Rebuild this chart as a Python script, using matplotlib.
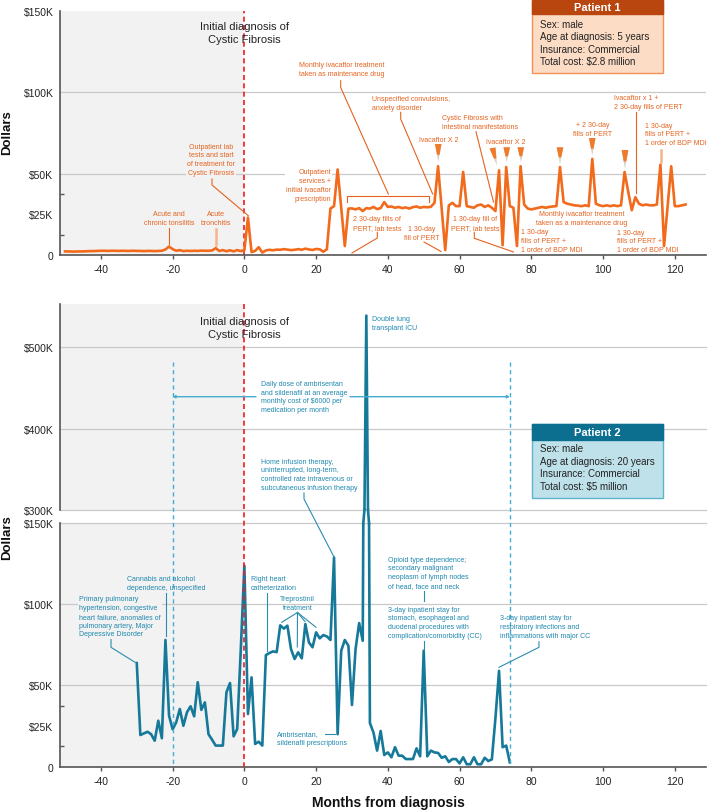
import matplotlib
matplotlib.use('Agg')
import matplotlib.pyplot as plt
from matplotlib.transforms import Affine2D, blended_transform_factory
from matplotlib.lines import Line2D
from matplotlib.patches import Rectangle, Polygon, FancyArrowPatch

plt.rcParams['font.family'] = ['Liberation Sans', 'DejaVu Sans']

# ---------------- data (monthly cost, thousands of dollars) ----------------
months1 = list(range(-50, 124))
cost1_k = [
    2.2, 2.2, 2.1, 2.1, 2.2, 2.2, 2.3, 2.4, 2.4, 2.5,
    2.6, 2.6, 2.5, 2.6, 2.6, 2.5, 2.6, 2.5, 2.5, 2.6,
    2.5, 2.5, 2.4, 2.5, 2.5, 2.4, 2.5, 2.6, 3.4, 5.2,
    3.6, 2.6, 3.0, 2.4, 2.6, 2.5, 2.6, 2.5, 2.7, 2.6,
    2.6, 2.8, 4.2, 2.5, 3.0, 2.3, 2.9, 2.2, 3.0, 2.4,
    3.0, 23.0, 1.8, 2.5, 4.8, 1.5, 2.8, 3.2, 2.9, 3.3,
    3.2, 3.6, 3.3, 3.0, 3.2, 3.6, 3.2, 3.9, 3.4, 3.1,
    3.7, 3.5, 2.0, 3.5, 28.5, 30.0, 52.5, 29.0, 5.5, 28.5,
    28.6, 28.0, 28.8, 27.0, 28.8, 28.5, 29.5, 28.2, 28.8, 32.5,
    29.5, 29.8, 29.0, 29.5, 28.8, 29.2, 28.5, 29.4, 29.8, 29.0,
    29.5, 29.3, 29.6, 32.0, 54.5, 29.0, 3.0, 30.5, 32.0, 30.0,
    30.0, 51.0, 30.0, 29.5, 29.0, 30.5, 31.0, 29.5, 30.5, 29.0,
    27.0, 52.0, 6.0, 54.0, 30.0, 29.0, 5.5, 54.5, 31.0, 28.5,
    28.0, 28.5, 29.0, 29.5, 29.0, 29.5, 29.8, 30.0, 54.0, 32.5,
    31.5, 31.0, 30.5, 30.3, 30.0, 30.5, 30.0, 59.0, 31.5, 30.5,
    30.0, 30.5, 30.0, 30.5, 30.0, 30.5, 51.0, 39.0, 27.5, 35.5,
    31.5, 30.5, 31.0, 30.5, 30.5, 31.0, 55.5, 5.5, 30.0, 54.5,
    30.0, 30.0, 30.5, 31.0,
]

months2 = list(range(-30, 75))
cost2_k = [
    63.8, 19.5, 20.5, 21.5, 20.0, 16.0, 28.3, 17.5, 78.0, 31.4,
    23.0, 27.3, 35.5, 25.2, 33.5, 37.2, 31.0, 52.0, 35.0, 39.6,
    20.0, 16.6, 13.0, 13.0, 13.0, 45.8, 51.5, 18.7, 23.2, 72.0,
    123.7, 32.4, 55.0, 14.0, 15.4, 13.0, 68.7, 70.0, 71.0, 70.5,
    87.0, 85.0, 86.8, 72.4, 66.3, 70.4, 66.7, 87.8, 76.5, 73.5,
    82.7, 79.0, 81.0, 80.2, 78.0, 128.8, 20.0, 71.4, 78.0, 74.5,
    38.0, 72.4, 88.4, 77.5, 539.0, 26.9, 21.0, 9.9, 22.0, 7.2,
    8.8, 5.8, 12.0, 6.8, 6.8, 4.7, 4.7, 4.7, 11.3, 6.4,
    71.4, 6.4, 9.9, 8.8, 8.5, 5.5, 6.4, 2.9, 4.7, 4.7,
    2.0, 5.8, 1.5, 1.5, 5.8, 1.5, 1.5, 5.5, 3.5, 4.5,
    30.0, 59.0, 12.0, 13.0, 2.7,
]

x_ticks = [-40, -20, 0, 20, 40, 60, 80, 100, 120]
low_ticks = [0, 25000, 50000, 100000, 150000]
low_labels = ['0', '$25K', '$50K', '$100K', '$150K']
high_ticks = [300000, 400000, 500000]
high_labels = ['$300K', '$400K', '$500K']

patient1_info = ['Sex: male', 'Age at diagnosis: 5 years',
                 'Insurance: Commercial', 'Total cost: $2.8 million']
patient2_info = ['Sex: male', 'Age at diagnosis: 20 years',
                 'Insurance: Commercial', 'Total cost: $5 million']

# ---------------- styling ----------------
ORANGE = '#F26A1B'
ORANGE_T = '#E4621E'
ORANGE_L = '#F6B48A'
TEAL = '#16799A'
TEAL_T = '#1E87AE'
RED = '#EE1C25'
TEAL_D = '#45AECF'
GRID = '#C9C9C9'
SHADE = '#F2F2F2'
SPINE = '#555555'
XLIM = (-51.4, 128.7)
LOW_MAX, HIGH_MIN = 150000, 300000

cost1 = [v * 1000 for v in cost1_k]
cost2 = [v * 1000 for v in cost2_k]

W, H = 708, 812
fig = plt.figure(figsize=(W / 100, H / 100), dpi=100)
pix = Affine2D().scale(1 / W, -1 / H).translate(0, 1) + fig.transFigure

GAP_TOP, GAP_BOT = 511, 524


def add_ax(top, bottom):
    return fig.add_axes([60 / W, 1 - bottom / H, (706 - 60) / W, (bottom - top) / H])


ax1 = add_ax(11.7, 256)
ax2u = add_ax(305, GAP_TOP)
ax2l = add_ax(GAP_BOT, 767.7)


def base_style(ax, ylim):
    ax.set_xlim(*XLIM)
    ax.set_ylim(*ylim)
    for s in ['top', 'right']:
        ax.spines[s].set_visible(False)
    for s in ['left', 'bottom']:
        ax.spines[s].set_color(SPINE)
        ax.spines[s].set_linewidth(1.2)
    ax.axvspan(XLIM[0], 0, color=SHADE, lw=0, zorder=0)
    ax.tick_params(axis='y', which='major', length=0, pad=4.8, labelsize=7.5,
                   labelcolor='#222222')
    ax.tick_params(axis='x', which='major', length=3, width=1, color=SPINE,
                   pad=3.5, labelsize=7.5, labelcolor='#222222')


base_style(ax1, (0, LOW_MAX))
ax1.set_yticks(low_ticks, low_labels)
ax1.set_yticks([12500, 37500], minor=True)
ax1.set_xticks(x_ticks, [str(t) for t in x_ticks])
for g in [50000, 100000]:
    ax1.axhline(g, color=GRID, lw=0.9, zorder=1)

base_style(ax2l, (0, LOW_MAX))
ax2l.spines['top'].set_visible(False)
ax2l.set_yticks(low_ticks, low_labels)
ax2l.set_yticks([12500, 37500], minor=True)
ax2l.set_xticks(x_ticks, [str(t) for t in x_ticks])
for g in [50000, 100000, 150000]:
    ax2l.axhline(g, color=GRID, lw=0.9, zorder=1, clip_on=False)

base_style(ax2u, (HIGH_MIN, 553300))
ax2u.spines['bottom'].set_visible(False)
ax2u.set_yticks(high_ticks, high_labels)
ax2u.set_xticks([])
for g in [300000, 400000, 500000]:
    ax2u.axhline(g, color=GRID, lw=0.9, zorder=1, clip_on=False)

for ax in (ax1, ax2l):
    ax.tick_params(axis='y', which='minor', direction='in', length=3,
                   width=1, color=SPINE)

# series
ax1.plot(months1, cost1, color=ORANGE, lw=1.9, zorder=3)
ax2l.plot(months2, cost2, color=TEAL, lw=1.9, zorder=3)
ax2u.plot(months2, cost2, color=TEAL, lw=1.9, zorder=3)

# continue the spike through the axis break
bl = blended_transform_factory(ax2l.transData, pix)
for i in range(len(cost2) - 1):
    a, b = cost2[i], cost2[i + 1]
    lo, hi = min(a, b), max(a, b)
    if lo < LOW_MAX and hi > HIGH_MIN:
        x0, x1 = months2[i], months2[i + 1]
        xl = x0 + (LOW_MAX - a) / (b - a) * (x1 - x0)
        xh = x0 + (HIGH_MIN - a) / (b - a) * (x1 - x0)
        fig.add_artist(Line2D([xh, xl], [GAP_TOP, GAP_BOT], transform=bl,
                              color=TEAL, lw=1.9, zorder=3))

# diagnosis lines
ax1.axvline(0, color=RED, lw=1.2, ls=(0, (3, 2)), zorder=2)
fig.add_artist(Line2D([0, 0], [305, 767.7], transform=bl, color=RED, lw=1.2,
                      ls=(0, (3, 2)), zorder=2))
for xv in (-20, 74):
    fig.add_artist(Line2D([xv, xv], [363.3, 767.7], transform=bl, color=TEAL_D,
                          lw=1.0, ls=(0, (3, 2.5)), zorder=2))


# ---------------- helpers ----------------
def txt(x, y, s, color, size=5, ha='left', va='center', bg=None, ls=1.35,
        weight='normal', ma=None):
    kw = {}
    if bg is not None:
        kw['bbox'] = dict(boxstyle='square,pad=0.15', fc=bg, ec='none')
    fig.text(x, y, s, transform=pix, color=color, fontsize=size, ha=ha, va=va,
             linespacing=ls, fontweight=weight, multialignment=ma or ha, zorder=5,
             **kw)


def lead(pts, color, lw=0.8):
    xs = [p[0] for p in pts]
    ys = [p[1] for p in pts]
    fig.add_artist(Line2D(xs, ys, transform=pix, color=color, lw=lw, zorder=4))


def tri(tl, tr, tip):
    fig.add_artist(Polygon([tl, tr, tip], closed=True, transform=pix,
                           fc='#D9CFC8', ec='none', zorder=4))
    f = 0.6
    l2 = (tl[0] + (tip[0] - tl[0]) * f, tl[1] + (tip[1] - tl[1]) * f)
    r2 = (tr[0] + (tip[0] - tr[0]) * f, tr[1] + (tip[1] - tr[1]) * f)
    fig.add_artist(Polygon([tl, tr, r2, l2], closed=True, transform=pix,
                           fc='#F07A2A', ec='none', zorder=4))


# ---------------- titles & axis labels ----------------
txt(244.7, 33.2, 'Initial diagnosis of\nCystic Fibrosis', '#222222', size=8,
    ha='center')
txt(244.7, 328.3, 'Initial diagnosis of\nCystic Fibrosis', '#222222', size=8,
    ha='center')
fig.text(7, 132.5, 'Dollars', transform=pix, rotation=90, fontsize=9.5,
         fontweight='bold', ha='center', va='center', color='#111111')
fig.text(7, 537.5, 'Dollars', transform=pix, rotation=90, fontsize=9.5,
         fontweight='bold', ha='center', va='center', color='#111111')
fig.text(388, 803, 'Months from diagnosis', transform=pix, fontsize=10,
         fontweight='bold', ha='center', va='center', color='#111111')

# ---------------- patient boxes ----------------
def pbox(top, bottom, hdr_bottom, body, edge, hdr, title, lines, ys):
    fig.add_artist(Rectangle((531.7, top), 131.6, bottom - top, transform=pix,
                             fc=body, ec=edge, lw=1.0, zorder=6))
    fig.add_artist(Rectangle((531.7, top), 131.6, hdr_bottom - top, transform=pix,
                             fc=hdr, ec=hdr, lw=1.0, zorder=7))
    fig.text(597.5, (top + hdr_bottom) / 2 + 0.3, title, transform=pix,
             fontsize=8, fontweight='bold', color='white', ha='center',
             va='center', zorder=8)
    for s, y in zip(lines, ys):
        fig.text(540, y, s, transform=pix, fontsize=7, color='#222222',
                 ha='left', va='center', zorder=8)


pbox(0.5, 74, 15, '#FDDCC5', '#F39155', '#B9450F', 'Patient 1',
     patient1_info, [24.5, 37.3, 50.0, 62.5])
pbox(425, 499.3, 440.7, '#BFE1EA', '#5FB3CC', '#0D6F8F', 'Patient 2',
     patient2_info, [449.3, 462.3, 474.3, 486.7])

# ---------------- patient 1 annotations ----------------
O = ORANGE_T
txt(169.3, 219.2, 'Acute and\nchronic tonsilitis', O, ha='center')
lead([(169.3, 229.3), (169.3, 245)], O)
txt(216, 219.2, 'Acute\nbronchitis', O, ha='center')
lead([(216, 230), (216, 246)], ORANGE_L, lw=1.8)
txt(211.3, 160.3, 'Outpatient lab\ntests and start\nof treatment for\nCystic Fibrosis',
    O, ha='center', bg=SHADE)
lead([(212, 180), (212, 186), (248.3, 216.7)], O)
txt(331, 186, 'Outpatient\nservices +\ninitial ivacaftor\nprescription', O,
    ha='right', bg='white')
txt(299, 70, 'Monthly ivacaftor treatment\ntaken as maintenance drug', O)
lead([(340.7, 81.7), (340.7, 88.5), (388.3, 195)], O)
lead([(347.3, 202.7), (347.3, 196.7), (429.3, 196.7), (429.3, 202.7)], O)
txt(371.7, 104.2, 'Unspecified convulsions,\nanxiety disorder', O)
lead([(400.7, 113.3), (400.7, 120), (432.7, 195)], O)
txt(438.3, 140.7, 'Ivacaftor X 2', O, ha='center')
txt(506, 142.3, 'Ivacaftor X 2', O, ha='center')
txt(441.7, 123.2, 'Cystic Fibrosis with\nintestinal manifestations', O)
lead([(476, 132.7), (493.5, 203)], O)
txt(592.3, 130, '+ 2 30-day\nfills of PERT', O, ha='center')
txt(614, 103.3, 'Ivacaftor x 1 +\n2 30-day fills of PERT', O)
lead([(635.7, 113.3), (635.7, 194)], O)
txt(645, 135, '1 30-day\nfills of PERT +\n1 order of BDP MDI', O)
lead([(660.7, 150.7), (660.7, 163.3)], ORANGE_L, lw=1.8)
txt(377.3, 224.2, '2 30-day fills of\nPERT, lab tests', O, ha='center')
lead([(377.3, 233.3), (377.3, 239), (352, 254)], O)
txt(421.7, 234.2, '1 30-day\nfill of PERT', O, ha='center')
lead([(424, 243), (441, 252.5)], O)
txt(475, 224.2, '1 30-day fill of\nPERT, lab tests', O, ha='center')
lead([(474.3, 233.3), (474.3, 239.3), (513.5, 253)], O)
txt(521, 241.7, '1 30-day\nfills of PERT +\n1 order of BDP MDI', O)
txt(581.7, 218.8, 'Monthly ivacaftor treatment\ntaken as a maintenance drug', O,
    ha='center')
txt(616.7, 241.8, '1 30-day\nfills of PERT +\n1 order of BDP MDI', O)

for t in [((435, 145), (441.5, 145), (438.3, 163)),
          ((489.5, 149.5), (495.5, 148.5), (497, 166.5)),
          ((503.5, 148.3), (510, 148.3), (506.7, 163.3)),
          ((517.5, 148.3), (524, 148.3), (521, 163.3)),
          ((556.7, 148.3), (563.3, 148.3), (560, 165)),
          ((589, 139), (595.5, 139), (592.3, 156.7)),
          ((621.7, 151), (628.3, 151), (625, 170))]:
    tri(*t)

# ---------------- patient 2 annotations ----------------
T = TEAL_T
TL = '#2B8CB0'
txt(261, 397.6, 'Daily dose of ambrisentan\nand sildenafil at an average\n'
    'monthly cost of $6000 per\nmedication per month', T)
for a, b in [((256, 397.7), (172.3, 397.7)), ((350, 397.7), (510, 397.7))]:
    fig.add_artist(FancyArrowPatch(a, b, transform=pix, arrowstyle='-|>',
                                   mutation_scale=4, color=TEAL_D, lw=1.0,
                                   shrinkA=0, shrinkB=0, zorder=4))
txt(261, 475.2, 'Home infusion therapy,\nuninterrupted, long-term,\n'
    'controlled rate intravenous or\nsubcutaneous infusion therapy', T)
lead([(304, 494), (304, 500), (334, 558)], TL)
txt(371.7, 324.2, 'Double lung\ntransplant ICU', T)
txt(126.7, 584.2, 'Cannabis and alcohol\ndependence, unspecified', T)
lead([(165.7, 594), (165.7, 637.3)], TL)
txt(79.3, 617.5, 'Primary pulmonary\nhypertension, congestive\nheart failure, anomalies of\n'
    'pulmonary artery, Major\nDepressive Disorder', T, bg=SHADE)
lead([(111, 640), (111, 648.3), (135, 663.3)], TL)
txt(250.7, 584.2, 'Right heart\ncatheterization', T)
lead([(266.7, 594), (266.7, 651.7)], TL)
txt(297.7, 604.2, 'Treprostinil\ntreatment', T, ha='center')
for end in [(281.7, 623.3), (297.3, 648), (305, 622.5), (316, 628.3)]:
    lead([(297.5, 613.5), end], TL)
txt(276.7, 739.2, 'Ambrisentan,\nsildenafil prescriptions', T)
lead([(325, 735), (334.5, 735)], TL)
txt(388.3, 573.3, 'Opioid type dependence;\nsecondary malignant\n'
    'neoplasm of lymph nodes\nof head, face and neck', T)
lead([(424, 591.7), (424, 601.7)], TL)
txt(388.3, 623.3, '3-day inpatient stay for\nstomach, esophageal and\n'
    'duodenal procedures with\ncomplication/comorbidity (CC)', T)
lead([(424, 641.7), (424, 650)], TL)
txt(500, 627.4, '3-day inpatient stay for\nrespiratory infections and\n'
    'inflammations with major CC', T)
lead([(539, 642.7), (539, 648.3), (499, 668.3)], TL)

fig.savefig('out.png', dpi=100)
